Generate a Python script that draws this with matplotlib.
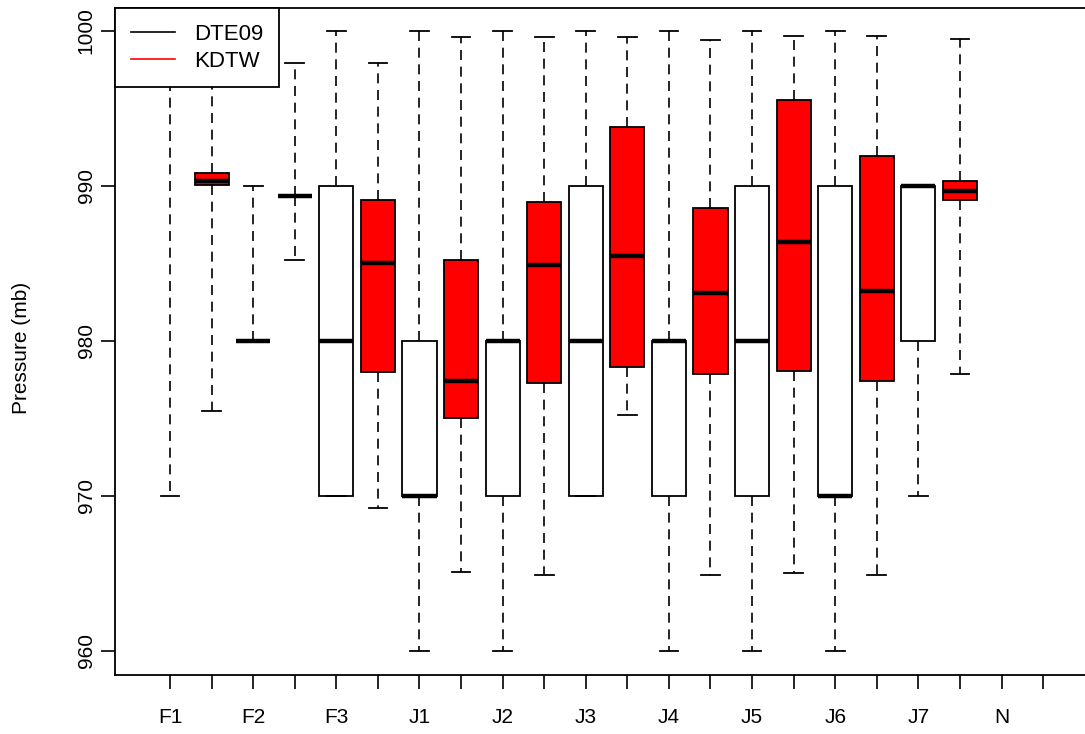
import matplotlib
matplotlib.use("Agg")
import matplotlib.pyplot as plt
from matplotlib.lines import Line2D

plt.rcParams['font.family'] = ['Liberation Sans', 'DejaVu Sans']

# Category labels (one per pair of boxes)
groups = ["F1", "F2", "F3", "J1", "J2", "J3", "J4", "J5", "J6", "J7", "N"]

# DTE09 station boxes (positions 1, 3, ..., 19)
dte_pos = [1, 3, 5, 7, 9, 11, 13, 15, 17, 19]
dte_lo  = [970, 980, 970, 960, 960, 970, 960, 960, 960, 970]
dte_q1  = [1000, 980, 970, 970, 970, 970, 970, 970, 970, 980]
dte_med = [1000, 980, 980, 970, 980, 980, 980, 980, 970, 990]
dte_q3  = [1000, 980, 990, 980, 980, 990, 980, 990, 990, 990]
dte_hi  = [1000, 990, 1000, 1000, 1000, 1000, 1000, 1000, 1000, 990]

# KDTW station boxes (positions 2, 4, ..., 20)
kdtw_pos = [2, 4, 6, 8, 10, 12, 14, 16, 18, 20]
kdtw_lo  = [975.5, 985.2, 969.2, 965.1, 964.9, 975.2, 964.9, 965.0, 964.9, 977.9]
kdtw_q1  = [990.05, 989.35, 978.0, 975.0, 977.3, 978.3, 977.9, 978.05, 977.4, 989.1]
kdtw_med = [990.35, 989.35, 985.0, 977.4, 984.9, 985.5, 983.1, 986.4, 983.2, 989.7]
kdtw_q3  = [990.85, 989.35, 989.1, 985.2, 988.95, 993.8, 988.6, 995.55, 991.95, 990.3]
kdtw_hi  = [1000, 997.9, 997.9, 999.6, 999.6, 999.6, 999.4, 999.7, 999.7, 999.5]

n_ticks = 22
yticks = [960, 970, 980, 990, 1000]


def make_stats(lo, q1, med, q3, hi):
    return [dict(whislo=a, q1=b, med=c, q3=d, whishi=e, fliers=[])
            for a, b, c, d, e in zip(lo, q1, med, q3, hi)]


W, H = 1085, 734
fig = plt.figure(figsize=(W / 100, H / 100), dpi=100)
ax = fig.add_axes([115 / W, 1 - 675 / H, (1088 - 115) / W, (675 - 8) / H])

common = dict(
    widths=0.82,
    capwidths=0.45,
    patch_artist=True,
    showfliers=False,
    whiskerprops=dict(color="black", lw=1.2, linestyle=(0, (6, 4))),
    capprops=dict(color="black", lw=1.3),
    medianprops=dict(color="black", lw=3.2, solid_capstyle="butt"),
    manage_ticks=False,
)

ax.bxp(make_stats(dte_lo, dte_q1, dte_med, dte_q3, dte_hi), positions=dte_pos,
       boxprops=dict(facecolor="white", edgecolor="black", lw=1.3), **common)
ax.bxp(make_stats(kdtw_lo, kdtw_q1, kdtw_med, kdtw_q3, kdtw_hi), positions=kdtw_pos,
       boxprops=dict(facecolor="#ff0000", edgecolor="black", lw=1.3), **common)

# x axis: a tick at every box slot, labels on every other one
ax.set_xlim(-0.323, 23.08)
ax.set_xticks(range(1, n_ticks + 1))
xt_labels = []
for i in range(n_ticks):
    xt_labels.append(groups[i // 2] if i % 2 == 0 else "")
ax.set_xticklabels(xt_labels, fontsize=15)

ax.set_ylim(958.45, 1001.48)
ax.set_yticks(yticks)
ax.set_yticklabels([str(v) for v in yticks], fontsize=15, rotation=90, va="center")

ax.tick_params(axis="x", length=10, width=1.2, pad=14, colors="black")
ax.tick_params(axis="y", length=10, width=1.2, pad=4, colors="black")

for side in ("left", "top", "bottom", "right"):
    ax.spines[side].set_linewidth(1.3)
    ax.spines[side].set_color("black")

ax.set_ylabel("Pressure (mb)", fontsize=15)
ax.yaxis.label.set_va("center")
ax.yaxis.set_label_coords((22 - 115) / 973, 0.49)

handles = [Line2D([], [], color="black", lw=1.2),
           Line2D([], [], color="#ff0000", lw=1.2)]
leg = ax.legend(handles, ["DTE09", "KDTW"], loc="upper left",
                bbox_to_anchor=(0, 1), borderaxespad=0, fancybox=False,
                framealpha=1, edgecolor="black", fontsize=16,
                handlelength=2.0, handletextpad=0.88, labelspacing=0.27,
                borderpad=0.7)
leg.get_frame().set_linewidth(1.3)
leg.set_zorder(10)

fig.savefig("out.png", dpi=100)
